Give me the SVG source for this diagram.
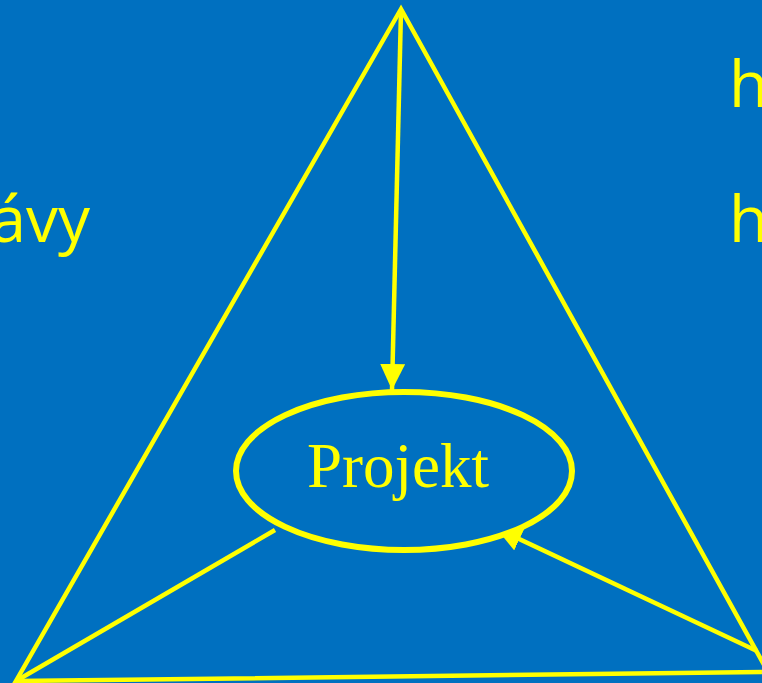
<svg xmlns="http://www.w3.org/2000/svg" width="762" height="683" viewBox="0 0 762 683">
<defs>
<style>
.ln{stroke:#FFFF00;stroke-width:4.5;fill:none;stroke-linejoin:miter}
.side{font-family:"Open Sans","Liberation Sans",sans-serif;font-size:64px;fill:#FFFF00}
.node{font-family:"Liberation Serif","Times New Roman",serif;font-size:63px;fill:#FFFF00}
</style>
<marker id="ah" markerUnits="userSpaceOnUse" markerWidth="26" markerHeight="25" refX="26" refY="12.5" orient="auto" viewBox="0 0 26 25">
<path d="M0,0 L26,12.5 L0,25 z" fill="#FFFF00"/>
</marker>
</defs>
<rect x="0" y="0" width="762" height="683" fill="#0070C0"/>
<text class="side" x="90" y="242" text-anchor="end">ávy</text>
<text class="side" x="729" y="107">h</text>
<text class="side" x="729" y="242">h</text>
<g id="connectors">
<polygon class="ln" points="401,9 16,681 768,672"/>
<line class="ln" x1="401" y1="10" x2="392" y2="390" marker-end="url(#ah)"/>
<line class="ln" x1="16" y1="681" x2="275" y2="530"/>
<line class="ln" x1="757" y1="651" x2="496" y2="528" marker-end="url(#ah)"/>
</g>
<g id="projekt">
<ellipse cx="404" cy="471" rx="168" ry="79" fill="#0070C0" stroke="#FFFF00" stroke-width="6"/>
<text class="node" x="398" y="487" text-anchor="middle">Projekt</text>
</g>
</svg>
